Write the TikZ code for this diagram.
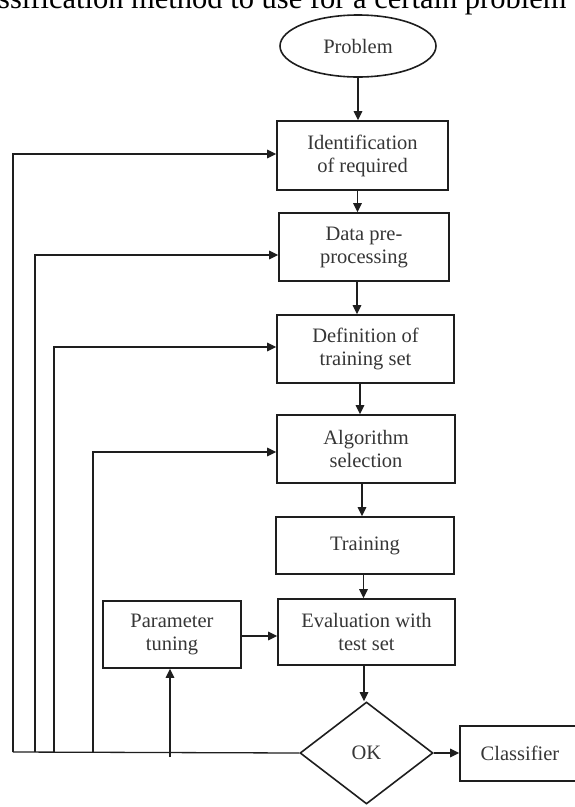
\documentclass[tikz,border=0pt]{standalone}
\usepackage{fontspec}
\setmainfont{Liberation Serif}
\usetikzlibrary{shapes.geometric,arrows.meta,calc}
\definecolor{ln}{HTML}{1E1E1E}
\definecolor{tx}{HTML}{363636}
\tikzset{
  box/.style={draw=ln, line width=1.6pt, rectangle, inner sep=0pt, align=center,
    text=tx, font=\fontsize{20.5}{23}\selectfont},
  oval/.style={box, ellipse},
  decide/.style={box, diamond},
  conn/.style={draw=ln, line width=1.3pt},
  arr/.style={conn, -{Triangle[length=9pt,width=8.5pt]}}
}
\begin{document}
\begin{tikzpicture}[x=1pt,y=-1pt]
\useasboundingbox (0,0) rectangle (575,807);
\node[anchor=base west, inner sep=0pt, font=\fontsize{30.5}{36}\selectfont] (head) at (-2,8) {ssification method to use for a certain problem};

\node[oval, minimum width=156pt, minimum height=62pt] (prob) at (358,46) {Problem};
\node[box, minimum width=171pt, minimum height=69pt] (ident) at (362.5,155.5) {Identification\\of required};
\node[box, minimum width=170pt, minimum height=68pt] (data) at (364,247) {Data pre-\\processing};
\node[box, minimum width=177pt, minimum height=68pt] (defn) at (365.5,349) {Definition of\\training set};
\node[box, minimum width=178pt, minimum height=68pt] (algo) at (366,449) {Algorithm\\selection};
\node[box, minimum width=178pt, minimum height=57pt] (train) at (365,545.5) {Training};
\node[box, minimum width=177pt, minimum height=66pt] (eval) at (366.5,632) {Evaluation with\\test set};
\node[box, minimum width=138pt, minimum height=67pt] (param) at (172,634.5) {Parameter\\tuning};
\node[decide, minimum width=133pt, minimum height=102pt] (ok) at (366.5,753) {OK};
\node[box, minimum width=120pt, minimum height=55pt] (cls) at (520,753.5) {Classifier};

% main chain
\draw[arr] (prob.south) -- (prob.south |- ident.north);
\draw[arr] ([xshift=-5pt]ident.south) -- ([xshift=-5pt]ident.south |- data.north);
\draw[arr] ([xshift=-7pt]data.south) -- ([xshift=-7pt]data.south |- defn.north);
\draw[arr] ([xshift=-5.5pt]defn.south) -- ([xshift=-5.5pt]defn.south |- algo.north);
\draw[arr] ([xshift=-4pt]algo.south) -- ([xshift=-4pt]algo.south |- train.north);
\draw[arr] ([xshift=-1.5pt]train.south) -- ([xshift=-1.5pt]train.south |- eval.north);
\draw[arr] ([xshift=-2.5pt]eval.south) -- ([xshift=-2.5pt]eval.south |- ok.north);
\draw[arr] (ok.east) -- (ok.east -| cls.west);
\draw[arr] ([yshift=-1.5pt]param.east) -- ([yshift=-1.5pt]param.east -| eval.west);

% feedback loops
\coordinate (f1) at (13,752);
\coordinate (f2) at (35,752);
\coordinate (f3) at (54,752);
\coordinate (f4) at (93,752);
\coordinate (f5) at (170,757);
\draw[conn] (ok.west) -- (f1);
\draw[arr] (f1) |- ([yshift=1.5pt]ident.west);
\draw[arr] (f2) |- ([yshift=-8pt]data.west);
\draw[arr] (f3) |- ([yshift=2pt]defn.west);
\draw[arr] (f4) |- ([yshift=-3pt]algo.west);
\draw[arr] (f5) -- (f5 |- param.south);
\end{tikzpicture}
\end{document}
